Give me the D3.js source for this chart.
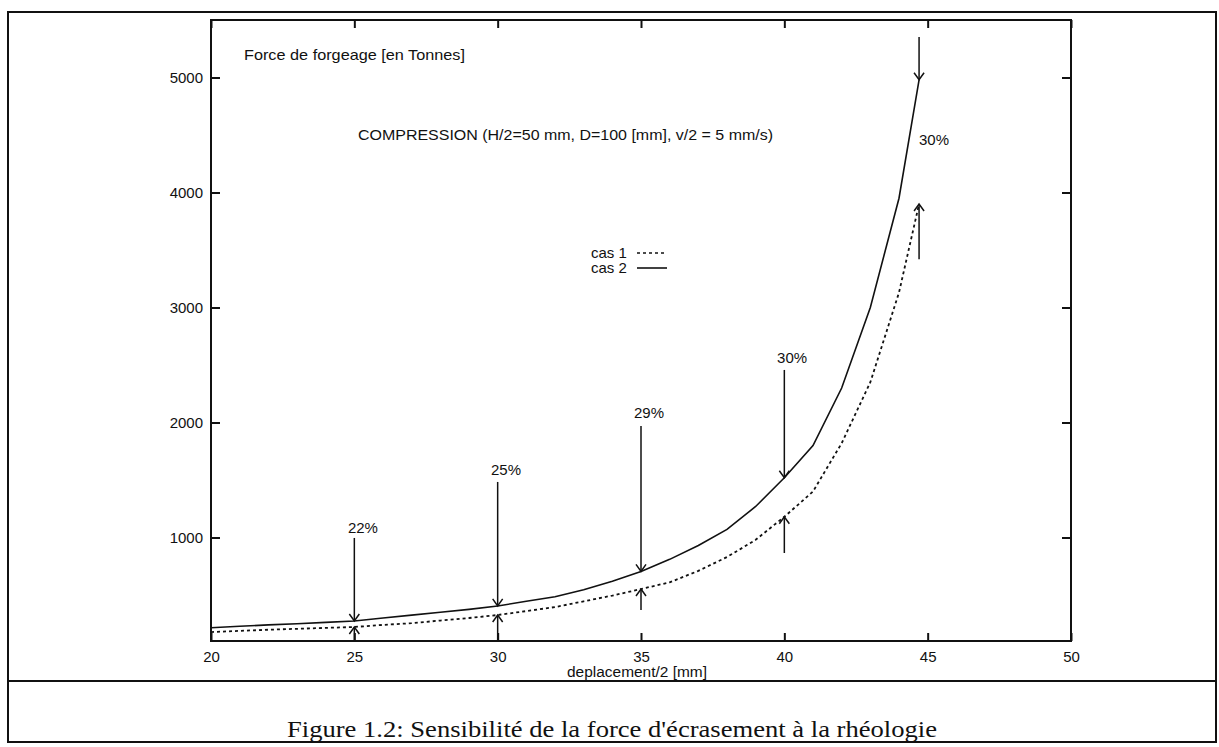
<!DOCTYPE html>
<html>
<head>
<meta charset="utf-8">
<script src="https://cdn.jsdelivr.net/npm/d3@7"></script>
<style>
  html, body { margin: 0; padding: 0; background: #fff; }
  svg { display: block; }
  text { font-family: "Liberation Sans", Arial, Helvetica, sans-serif; fill: #111; }
</style>
</head>
<body>
<script>
// ---- data ----
const deplacement = [20,21,22,23,24,25,26,27,28,29,30,31,32,33,34,35,36,37,38,39,40,41,42,43,44,44.7];
// cas 2 (solid line, upper curve)
const cas2 = [215,228,240,250,262,274,300,325,350,375,405,445,485,545,620,705,810,930,1070,1270,1520,1800,2300,3000,3950,4980];
// cas 1 (dotted line, lower curve)
const cas1 = [178,188,198,206,214,222,240,255,278,300,326,360,395,445,495,552,610,710,830,980,1180,1400,1820,2350,3130,3900];

const xTicks = [20,25,30,35,40,45,50];
const yTicks = [1000,2000,3000,4000,5000];

// annotation arrows (x position, start/end values)
const arrowX    = [25,30,35,40,44.7];
const downFrom  = [996,1483,1970,2457,5352];
const downTo    = [274,405,705,1520,4980];
const upFrom    = [100,100,370,865,3420];
const upTo      = [222,326,552,1180,3900];
const pctLabels = ["22%","25%","29%","30%","30%"];
const labelX    = [25.3,30.29,35.28,40.27,45.22];
const labelY    = [1039,1543,2039,2517,4413];

const legendNames = ["cas 1","cas 2"];
const titleText = "Force de forgeage [en Tonnes]";
const subtitleText = "COMPRESSION (H/2=50 mm, D=100 [mm], v/2 = 5 mm/s)";
const xLabelText = "deplacement/2 [mm]";
const captionText = "Figure 1.2: Sensibilité de la force d'écrasement à la rhéologie";

// ---- drawing ----
const W = 1219, H = 747;
const svg = d3.select("body").append("svg").attr("width", W).attr("height", H);
svg.append("rect").attr("width", W).attr("height", H).attr("fill", "#fff");

const L = 211, R = 1071, T = 20, B = 641;
const x = d3.scaleLinear().domain([20, 50]).range([L, R]);
const y = d3.scaleLinear().domain([100, 5500]).range([B, T]);

// outer figure boxes
const box = svg.append("g").attr("fill", "none").attr("stroke", "#111").attr("stroke-width", 2);
box.append("rect").attr("x", 8).attr("y", 12).attr("width", 1208).attr("height", 730);
box.append("line").attr("x1", 8).attr("x2", 1216).attr("y1", 681).attr("y2", 681);

// plot frame
svg.append("rect").attr("x", L).attr("y", T).attr("width", R - L).attr("height", B - T)
  .attr("fill", "none").attr("stroke", "#111").attr("stroke-width", 2);

// axes
const gx = svg.append("g").attr("transform", `translate(0,${B})`)
  .call(d3.axisBottom(x).tickValues(xTicks).tickSizeInner(-8).tickSizeOuter(0).tickPadding(10).tickFormat(d3.format("d")));
const gxt = svg.append("g").attr("transform", `translate(0,${T})`)
  .call(d3.axisTop(x).tickValues(xTicks).tickSizeInner(-8).tickSizeOuter(0).tickFormat(""));
const gy = svg.append("g").attr("transform", `translate(${L},0)`)
  .call(d3.axisLeft(y).tickValues(yTicks).tickSizeInner(-9).tickSizeOuter(0).tickPadding(8).tickFormat(d3.format("d")));
const gyr = svg.append("g").attr("transform", `translate(${R},0)`)
  .call(d3.axisRight(y).tickValues(yTicks).tickSizeInner(-9).tickSizeOuter(0).tickFormat(""));
[gx, gxt, gy, gyr].forEach(g => {
  g.select(".domain").remove();
  g.selectAll("line").attr("stroke", "#111").attr("stroke-width", 2);
  g.selectAll("text").style("font-size", "15px").attr("fill", "#111")
    .style("font-family", '"Liberation Sans", Arial, sans-serif');
});

// curves
const line = d3.line().x((d, i) => x(deplacement[i])).y(d => y(d));
svg.append("path").datum(cas2).attr("d", line)
  .attr("fill", "none").attr("stroke", "#111").attr("stroke-width", 1.6);
svg.append("path").datum(cas1).attr("d", line)
  .attr("fill", "none").attr("stroke", "#111").attr("stroke-width", 1.8).attr("stroke-dasharray", "3,3");

// arrows
const ag = svg.append("g").attr("stroke", "#111").attr("stroke-width", 1.5).attr("fill", "none");
function arrow(xv, fromV, toV) {
  const px = x(xv), y0 = y(fromV), y1 = y(toV);
  const dir = y1 > y0 ? 1 : -1;
  ag.append("line").attr("x1", px).attr("x2", px).attr("y1", y0).attr("y2", y1);
  ag.append("path").attr("d", `M${px - 5},${y1 - dir * 7}L${px},${y1}L${px + 5},${y1 - dir * 7}`);
}
arrowX.forEach((xv, i) => {
  arrow(xv, downFrom[i], downTo[i]);
  arrow(xv, upFrom[i], upTo[i]);
});

// percentage labels
svg.append("g").selectAll("text").data(pctLabels).join("text")
  .attr("x", (d, i) => x(labelX[i])).attr("y", (d, i) => y(labelY[i]))
  .attr("text-anchor", "middle").style("font-size", "15px").text(d => d);

// titles inside plot
svg.append("text").attr("x", 244).attr("y", 60).style("font-size", "15px")
  .attr("textLength", 221).attr("lengthAdjust", "spacingAndGlyphs").text(titleText);
svg.append("text").attr("x", 358).attr("y", 140).style("font-size", "15px")
  .attr("textLength", 415).attr("lengthAdjust", "spacingAndGlyphs").text(subtitleText);

// legend
const lg = svg.append("g");
legendNames.forEach((name, i) => {
  const by = 258 + i * 15;
  lg.append("text").attr("x", 591).attr("y", by).style("font-size", "15px").text(name);
  lg.append("line").attr("x1", 637).attr("x2", 667).attr("y1", by - 5).attr("y2", by - 5)
    .attr("stroke", "#111").attr("stroke-width", 1.6)
    .attr("stroke-dasharray", i === 0 ? "3,3" : null);
});

// x axis label
svg.append("text").attr("x", 567).attr("y", 677).style("font-size", "14px")
  .attr("textLength", 140).attr("lengthAdjust", "spacingAndGlyphs").text(xLabelText);

// caption
svg.append("text").attr("x", 287).attr("y", 737)
  .style("font-family", '"Liberation Serif", "Times New Roman", serif').style("font-size", "24px")
  .attr("textLength", 650).attr("lengthAdjust", "spacingAndGlyphs").text(captionText);
</script>
</body>
</html>
